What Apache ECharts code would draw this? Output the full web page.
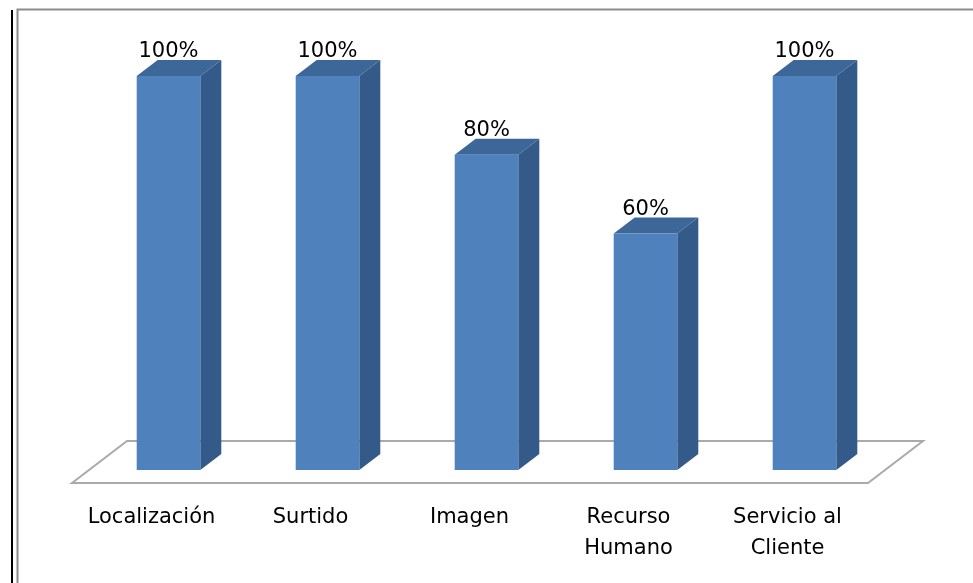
<!DOCTYPE html>
<html>
<head>
<meta charset="utf-8">
<script src="https://cdn.jsdelivr.net/npm/echarts@6/dist/echarts.min.js"></script>
<style>
html,body{margin:0;padding:0;background:#fff;}
#main{width:973px;height:583px;}
</style>
</head>
<body>
<div id="main"></div>
<script>
var categories = ['Localización', 'Surtido', 'Imagen', 'Recurso\nHumano', 'Servicio al\nCliente'];
var values = [100, 100, 80, 60, 100];
var valueLabels = ['100%', '100%', '80%', '60%', '100%'];

var FONT = 'DejaVu Sans';
var chart = echarts.init(document.getElementById('main'));

function floorRender(params, api) {
  var base = api.coord([0, 0]);
  var half = api.size([1, 0])[0] / 2;
  var l = api.coord([0, 0])[0] - half;
  var r = api.coord([categories.length - 1, 0])[0] + half;
  var y0 = base[1];
  var pts = [
    [l - 17, y0 + 13],
    [l + 38, y0 - 29],
    [r + 39, y0 - 29],
    [r - 16, y0 + 13]
  ];
  return {
    type: 'polygon',
    shape: { points: pts },
    style: { fill: '#fff', stroke: '#aaaaaa', lineWidth: 2 },
    z2: 0
  };
}

function barRender(params, api) {
  var idx = api.value(0);
  var val = api.value(1);
  var top = api.coord([idx, val]);
  var bot = api.coord([idx, 0]);
  var w = api.size([1, 0])[0] * 0.4;
  var x0 = top[0] - w / 2, x1 = top[0] + w / 2;
  var yt = top[1], yb = bot[1];
  var dx = 21, dy = -16;
  return {
    type: 'group',
    children: [
      { type: 'polygon', shape: { points: [[x1, yt], [x1 + dx, yt + dy], [x1 + dx, yb + dy], [x1, yb]] },
        style: { fill: '#335a89' } },
      { type: 'polygon', shape: { points: [[x0, yt], [x0 + dx, yt + dy], [x1 + dx, yt + dy], [x1, yt]] },
        style: { fill: '#3d6699' } },
      { type: 'rect', shape: { x: x0, y: yt, width: w, height: yb - yt },
        style: { fill: '#4f81bd' } },
      { type: 'text', style: { text: valueLabels[params.dataIndex], x: top[0], y: yt - 14,
        align: 'center', verticalAlign: 'bottom', fill: '#000', font: '21px "' + FONT + '"' } }
    ]
  };
}

chart.setOption({
  animation: false,
  backgroundColor: '#fff',
  graphic: [
    { type: 'line', shape: { x1: 12, y1: 10, x2: 12, y2: 583 }, style: { stroke: '#000', lineWidth: 2 } },
    { type: 'polyline', shape: { points: [[17.5, 583], [17.5, 9.5], [973, 9.5]] }, style: { stroke: '#8c8c8c', lineWidth: 2, fill: null } }
  ],
  grid: { left: 89, right: 89, top: 76, bottom: 113 },
  xAxis: {
    type: 'category',
    data: categories,
    axisLine: { show: false },
    axisTick: { show: false },
    axisLabel: {
      margin: 32,
      interval: 0,
      fontFamily: FONT,
      fontSize: 21,
      lineHeight: 31,
      color: '#000',
      padding: [0, 34, 0, 0]
    }
  },
  yAxis: {
    type: 'value', min: 0, max: 100, show: false, splitLine: { show: false }
  },
  series: [
    { type: 'custom', renderItem: floorRender, data: [[0, 0]], z: 1, silent: true },
    { type: 'custom', renderItem: barRender, data: values.map(function (v, i) { return [i, v]; }), z: 2,
      encode: { x: 0, y: 1 } }
  ]
});
</script>
</body>
</html>
